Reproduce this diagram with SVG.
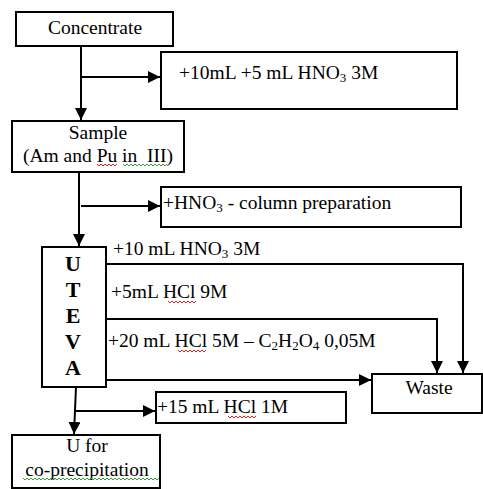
<svg xmlns="http://www.w3.org/2000/svg" width="483" height="489" viewBox="0 0 483 489">
<style>
.box{fill:#fff;stroke:#000;stroke-width:2}
.t{font-family:"Liberation Serif","Times New Roman",serif;font-size:19.5px;fill:#000}
.c{text-anchor:middle}
.b{font-weight:bold;font-size:22px}
.sub{font-size:13px}
.con{fill:none;stroke:#000;stroke-width:2}
.red{fill:none;stroke:#e02020;stroke-width:1}
.grn{fill:none;stroke:#3a9a3a;stroke-width:1}
</style>
<defs>
<marker id="ah" markerUnits="userSpaceOnUse" markerWidth="12" markerHeight="12" viewBox="0 0 12 12" refX="12" refY="6" orient="auto">
<path d="M0,0 L12,6 L0,12 Z" fill="#000"/>
</marker>
</defs>
<rect width="483" height="489" fill="#fff"/>
<g id="connectors">
<path class="con" d="M81,46 V120" marker-end="url(#ah)"/>
<path class="con" d="M81,77 H160" marker-end="url(#ah)"/>
<path class="con" d="M79,172 V246" marker-end="url(#ah)"/>
<path class="con" d="M81,206 H160" marker-end="url(#ah)"/>
<path class="con" d="M106,264 H463 V373" marker-end="url(#ah)"/>
<path class="con" d="M104,319 H437 V373" marker-end="url(#ah)"/>
<path class="con" d="M106,380 H371" marker-end="url(#ah)"/>
<path class="con" d="M76,387 L74,434" marker-end="url(#ah)"/>
<path class="con" d="M76,411 H155" marker-end="url(#ah)"/>
</g>
<g id="concentrate">
<rect class="box" x="16" y="12" width="157" height="34"/>
<text class="t c" x="95" y="34">Concentrate</text>
</g>
<g id="add1">
<rect class="box" x="161" y="52" width="296" height="57"/>
<text class="t" x="179" y="79">+10mL +5 mL HNO<tspan class="sub" dy="3">3</tspan><tspan dy="-3"> 3M</tspan></text>
</g>
<g id="sample">
<rect class="box" x="12" y="121" width="172" height="51"/>
<text class="t c" x="98" y="139">Sample</text>
<text class="t c" x="98" y="162" xml:space="preserve">(Am and Pu in  III)</text>
<path class="red" d="M97,164 l2,2 l2,-2 l2,2 l2,-2 l2,2 l2,-2 l2,2 l2,-2 l2,2 l2,-2"/>
<path class="grn" d="M123,164 l2,2 l2,-2 l2,2 l2,-2 l2,2 l2,-2 l2,2 l2,-2 l2,2 l2,-2 l2,2 l2,-2 l2,2 l2,-2 l2,2 l2,-2 l2,2 l2,-2 l2,2 l2,-2 l2,2 l2,-2"/>
</g>
<g id="add2">
<rect class="box" x="161" y="187" width="300" height="40"/>
<text class="t" x="163" y="209">+HNO<tspan class="sub" dy="3">3</tspan><tspan dy="-3"> - column preparation</tspan></text>
</g>
<g id="uteva">
<rect class="box" x="42" y="247" width="64" height="140"/>
<text class="t c b" x="73" y="271">U</text>
<text class="t c b" x="73" y="297">T</text>
<text class="t c b" x="73" y="323">E</text>
<text class="t c b" x="73" y="349">V</text>
<text class="t c b" x="73" y="375">A</text>
</g>
<g id="labels">
<text class="t" x="113" y="255">+10 mL HNO<tspan class="sub" dy="3">3</tspan><tspan dy="-3"> 3M</tspan></text>
<text class="t" x="111" y="298">+5mL HCl 9M</text>
<path class="red" d="M168,301 l2,2 l2,-2 l2,2 l2,-2 l2,2 l2,-2 l2,2 l2,-2 l2,2 l2,-2 l2,2 l2,-2 l2,2 l2,-2"/>
<text class="t" x="108" y="347">+20 mL HCl 5M – C<tspan class="sub" dy="3">2</tspan><tspan dy="-3">H</tspan><tspan class="sub" dy="3">2</tspan><tspan dy="-3">O</tspan><tspan class="sub" dy="3">4</tspan><tspan dy="-3"> 0,05M</tspan></text>
<path class="red" d="M178,350 l2,2 l2,-2 l2,2 l2,-2 l2,2 l2,-2 l2,2 l2,-2 l2,2 l2,-2 l2,2 l2,-2 l2,2 l2,-2"/>
</g>
<g id="waste">
<rect class="box" x="372" y="374" width="110" height="39"/>
<text class="t c" x="429" y="394">Waste</text>
</g>
<g id="add3">
<rect class="box" x="156" y="392" width="190" height="31"/>
<text class="t" x="157" y="413">+15 mL HCl 1M</text>
<path class="red" d="M228,416 l2,2 l2,-2 l2,2 l2,-2 l2,2 l2,-2 l2,2 l2,-2 l2,2 l2,-2 l2,2 l2,-2 l2,2 l2,-2"/>
</g>
<g id="ucopp">
<rect class="box" x="12" y="435" width="148" height="53"/>
<text class="t c" x="87" y="452">U for</text>
<text class="t c" x="87" y="476">co-precipitation</text>
<path class="grn" d="M23,478 l2,2 l2,-2 l2,2 l2,-2 l2,2 l2,-2 l2,2 l2,-2 l2,2 l2,-2 l2,2 l2,-2 l2,2 l2,-2 l2,2 l2,-2 l2,2 l2,-2 l2,2 l2,-2 l2,2 l2,-2 l2,2 l2,-2 l2,2 l2,-2 l2,2 l2,-2 l2,2 l2,-2 l2,2 l2,-2 l2,2 l2,-2 l2,2 l2,-2 l2,2 l2,-2 l2,2 l2,-2 l2,2 l2,-2 l2,2 l2,-2 l2,2 l2,-2 l2,2 l2,-2 l2,2 l2,-2 l2,2 l2,-2 l2,2 l2,-2 l2,2 l2,-2 l2,2 l2,-2 l2,2 l2,-2 l2,2 l2,-2 l2,2 l2,-2 l2,2 l2,-2 l2,2 l2,-2"/>
</g>
</svg>
